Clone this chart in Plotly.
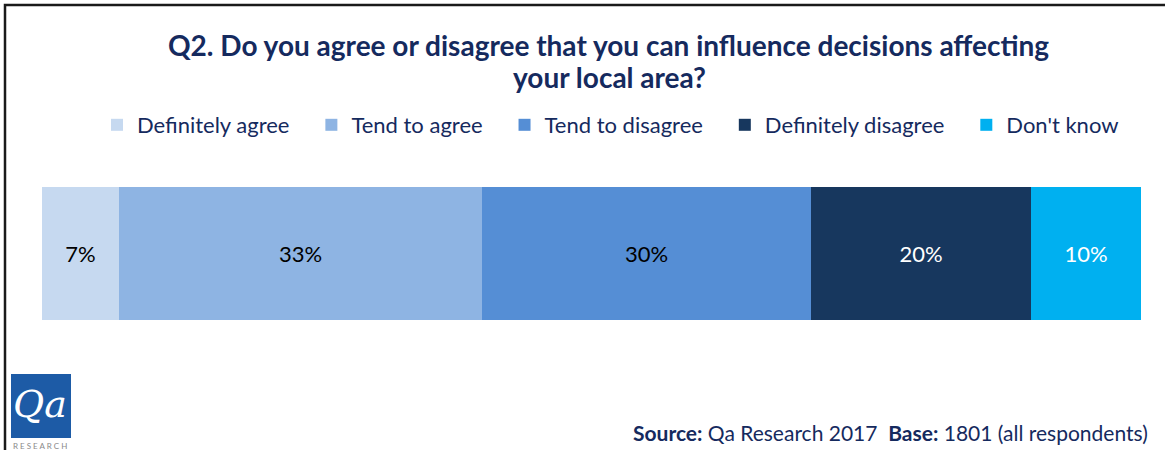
import plotly.graph_objects as go

categories = ["Definitely agree", "Tend to agree", "Tend to disagree", "Definitely disagree", "Don't know"]
values = [7, 33, 30, 20, 10]
colors = ["#C6D9F0", "#8EB4E3", "#558ED5", "#17375E", "#00B0F0"]
text_colors = ["#000000", "#000000", "#000000", "#FFFFFF", "#FFFFFF"]
row = ["Q2"]

W, H = 1165, 450
NAVY = "#152A5E"
PAD = "\u00a0\u00a0\u00a0"

def px(x):
    return x / W

def py(y):
    return 1 - y / H

fig = go.Figure()
for cat, v, c, tc in zip(categories, values, colors, text_colors):
    fig.add_trace(go.Bar(
        y=row, x=[v], name=cat + PAD, orientation="h",
        marker=dict(color=c, line=dict(width=0)),
        text=[f"{v}%"], textposition="inside", insidetextanchor="middle",
        textfont=dict(family="Lato", size=22, color=tc),
        hoverinfo="skip",
    ))

fig.update_layout(
    width=W, height=H,
    margin=dict(l=0, r=0, t=0, b=0),
    paper_bgcolor="white", plot_bgcolor="white",
    barmode="stack", bargap=0,
    showlegend=True,
    legend=dict(
        orientation="h", x=px(97), y=py(125), xanchor="left", yanchor="middle",
        font=dict(family="Lato", size=22, color=NAVY),
        traceorder="normal", itemwidth=30,
    ),
    xaxis=dict(domain=[px(42), px(1141)], range=[0, sum(values)], visible=False, fixedrange=True),
    yaxis=dict(domain=[py(320), py(187)], range=[-0.5, 0.5], visible=False, fixedrange=True),
    uniformtext=dict(mode=False),
)

annotations = [
    dict(text="<b>Q2. Do you agree or disagree that you can influence decisions affecting</b>",
         x=px(608), y=py(45), xref="paper", yref="paper", xanchor="center", yanchor="middle",
         showarrow=False, font=dict(family="Lato", size=28, color=NAVY)),
    dict(text="<b>your local area?</b>",
         x=px(609), y=py(77), xref="paper", yref="paper", xanchor="center", yanchor="middle",
         showarrow=False, font=dict(family="Lato", size=28, color=NAVY)),
    dict(text="<b>Source:</b> Qa Research 2017  <b>Base:</b> 1801 (all respondents)",
         x=px(1150), y=py(432), xref="paper", yref="paper", xanchor="right", yanchor="middle",
         showarrow=False, font=dict(family="Lato", size=21, color=NAVY)),
    dict(text="<i>Qa</i>", x=px(40), y=py(404), xref="paper", yref="paper",
         xanchor="center", yanchor="middle", showarrow=False,
         font=dict(family="DejaVu Serif", size=38, color="white")),
    dict(text="R E S E A R C H", x=px(40), y=py(446), xref="paper", yref="paper",
         xanchor="center", yanchor="middle", showarrow=False,
         font=dict(family="Lato", size=8, color="#8A8A8A")),
]
fig.update_layout(annotations=annotations)

shapes = [
    dict(type="rect", xref="paper", yref="paper",
         x0=px(5), x1=px(1180), y0=py(470), y1=py(5),
         line=dict(color="#1A1A1A", width=2.5), fillcolor="rgba(0,0,0,0)", layer="below"),
    dict(type="rect", xref="paper", yref="paper",
         x0=px(11), x1=px(71), y0=py(438), y1=py(374),
         line=dict(width=0), fillcolor="#1D5BA6", layer="below"),
]
fig.update_layout(shapes=shapes)

fig.write_html("out.html")
